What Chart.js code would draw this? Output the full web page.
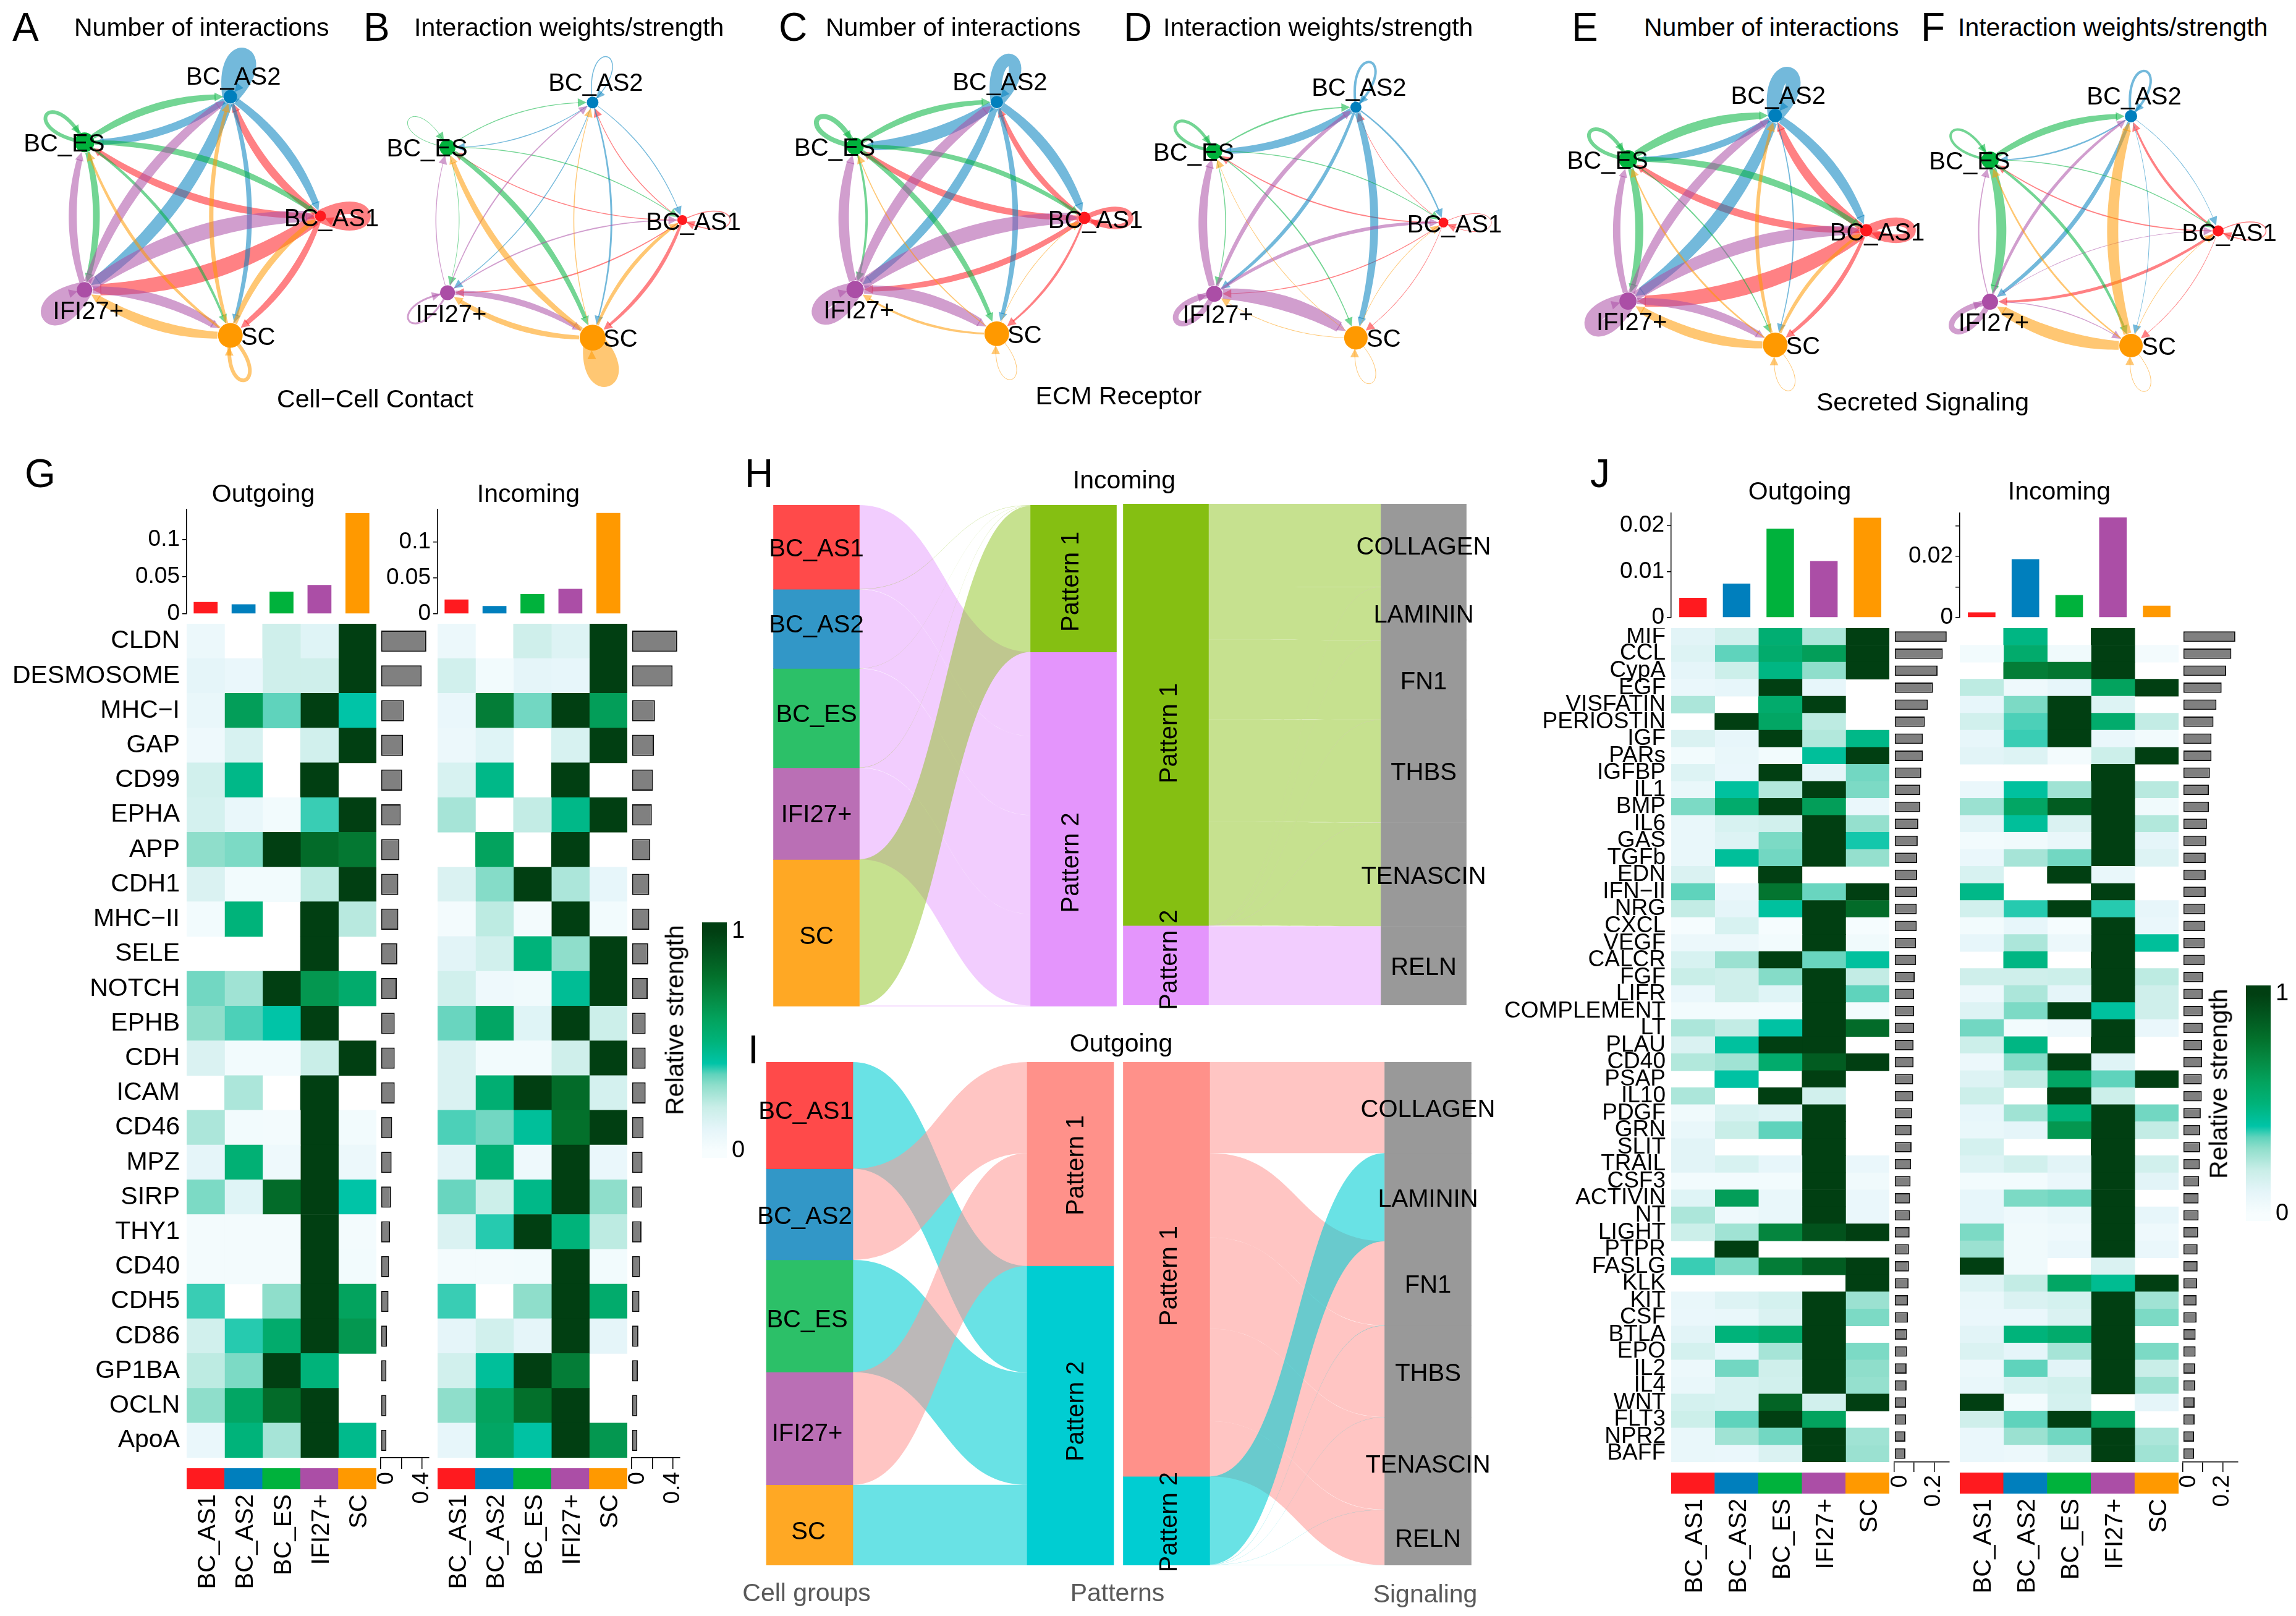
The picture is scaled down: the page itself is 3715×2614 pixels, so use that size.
<!DOCTYPE html>
<html lang="en">
<head>
<meta charset="UTF-8">
<title>Cell communication panels</title>
<script src="https://cdn.jsdelivr.net/npm/chart.js"></script>
<style>
    html, body { margin: 0; padding: 0; background: #fff; }
    body { position: relative; width: 3715px; height: 2614px; overflow: hidden; font-family: "Liberation Sans", Arial, sans-serif; }
    .t { position: absolute; white-space: nowrap; line-height: 1; color: #000; }
</style>
</head>
<body>
<script>
// ---- data ----
const cellGroups = ['BC_AS1', 'BC_AS2', 'BC_ES', 'IFI27+', 'SC'];
const groupColors = ['#FF1A1F', '#007FBD', '#00B23C', '#AB4EA6', '#FF9900'];
const sankeyGroupColors = ['#FF4A4A', '#3297C7', '#2CC068', '#BA6FB5', '#FFA824'];

// circle plots, edge weight[from][to], diagonal is the self loop
const nodeWeightA = [9, 11, 16, 12.5, 20];
const edgesA = [[20,13,12,26,11],[15,26,13,21,8],[10,12,6,11,5],[25,16,13,26,16],[10,7,5,16,6]];
const nodeWeightB = [8, 9.5, 13, 12, 21];
const edgesB = [[1.5,1.5,1.5,2,6],[1.5,1.5,1.5,1.5,3],[1.5,1.5,1,1,9],[2,2,1.5,3,10],[6,1.5,10,9,28]];
const nodeWeightC = [10, 10, 14, 14, 20];
const edgesC = [[8,9,11,10,4],[17,20,20,15,9],[8,10,8,4,9],[24,17,17,24,19],[1,0,2,4,1]];
const nodeWeightD = [8, 9, 13, 13, 19];
const edgesD = [[1,1,2,1.5,1],[3,4,13,6,13],[1.5,2.5,5,1.5,2],[6,7,14,9,24],[1,0,1,1,1]];
const nodeWeightE = [10, 11, 15, 14, 20];
const edgesE = [[14,15,12,26,7],[17,24,11,21,2],[11,15,6,13,2],[21,15,12,25,14],[6,6,3,16,1]];
const nodeWeightF = [9, 10, 14, 13, 19];
const edgesF = [[1.5,4,2,5,1],[1,4,2.5,7,1],[1.5,11,4,16,5],[1,5,2,9,1.5],[1,18,3,20,1]];

// panel G
const rowsG = ['CLDN','DESMOSOME','MHC−I','GAP','CD99','EPHA','APP','CDH1','MHC−II','SELE','NOTCH','EPHB','CDH','ICAM','CD46','MPZ','SIRP','THY1','CD40','CDH5','CD86','GP1BA','OCLN','ApoA'];
const gOutTop = [0.016, 0.013, 0.030, 0.039, 0.136];
const gInTop = [0.020, 0.011, 0.0276, 0.035, 0.141];
const gOutSide = [.44,.395,.225,.215,.207,.193,.18,.17,.17,.16,.155,.135,.135,.135,.11,.105,.1,.09,.08,.075,.06,.055,.055,.055];
const gInSide = [.44,.395,.225,.215,.205,.195,.18,.17,.17,.16,.155,.135,.135,.135,.115,.105,.1,.095,.08,.075,.065,.06,.055,.055];
const gOut = [
[.06,null,.18,.12,1],[.1,.07,.18,.18,1],[.08,.62,.35,1,.4],[.05,.15,null,.17,1],[.17,.47,null,1,null],[.16,.08,.03,.37,1],
[.3,.32,1,.82,.77],[.14,.03,.03,.22,1],[.03,.5,null,1,.23],[null,null,null,1,null],[.33,.27,1,.65,.55],[.3,.36,.4,1,null],
[.14,.03,.03,.2,1],[null,.25,null,1,null],[.25,.03,.02,1,.03],[.1,.52,.05,1,.06],[.32,.12,.82,1,.4],[.02,.02,.02,1,.02],
[.02,.02,.02,1,.03],[.37,null,.3,1,.6],[.17,.38,.55,1,.65],[.22,.32,1,.5,null],[.3,.58,.82,1,null],[.07,.5,.26,1,.46]];
const gIn = [
[.06,null,.18,.13,1],[.17,.03,.1,.09,1],[.07,.75,.33,1,.62],[.06,.12,null,.15,1],[.15,.47,null,1,null],[.26,null,.21,.47,1],
[null,.6,null,1,null],[.14,.31,1,.25,.09],[.02,.22,.02,1,.03],[.11,.17,.5,.3,1],[.17,.05,.04,.44,1],[.34,.58,.12,1,.19],
[.14,.03,.03,.18,1],[.14,.53,1,.82,.16],[.36,.33,.43,.8,1],[.11,.52,.05,1,.07],[.34,.19,.47,1,.3],[.14,.38,1,.5,.22],
[.02,.02,.03,1,.03],[.37,null,.3,1,.55],[.1,.17,.1,1,.1],[.17,.43,1,.75,null],[.3,.6,.8,1,null],[.09,.58,.41,1,.65]];

// panel J
const rowsJ = ['MIF','CCL','CypA','EGF','VISFATIN','PERIOSTIN','IGF','PARs','IGFBP','IL1','BMP','IL6','GAS','TGFb','EDN','IFN−II','NRG','CXCL','VEGF','CALCR','FGF','LIFR','COMPLEMENT','LT','PLAU','CD40','PSAP','IL10','PDGF','GRN','SLIT','TRAIL','CSF3','ACTIVIN','NT','LIGHT','PTPR','FASLG','KLK','KIT','CSF','BTLA','EPO','IL2','IL4','WNT','FLT3','NPR2','BAFF'];
const jOutTop = [0.0043, 0.0074, 0.0193, 0.0123, 0.0217];
const jInTop = [0.0017, 0.0191, 0.0074, 0.0328, 0.0039];
const jSide = [.264,.244,.218,.195,.169,.154,.144,.144,.136,.131,.131,.121,.118,.115,.115,.115,.113,.113,.11,.11,.103,.1,.1,.1,.097,.097,.095,.095,.09,.087,.087,.085,.082,.079,.079,.077,.074,.074,.072,.069,.069,.064,.064,.062,.062,.059,.059,.056,.056];
const jOut = [
[.11,.17,.53,.25,1],[.13,.35,.55,.62,1],[.1,.19,.48,.3,1],[.07,.09,1,.09,null],[.25,null,.55,1,null],[null,1,.58,.22,null],
[.14,.09,1,.24,.47],[.03,.08,.03,.43,1],[.13,.07,1,.1,.33],[.08,.42,.24,1,.32],[.32,.55,1,.62,.07],[.08,.15,.17,1,.29],
[.08,.13,.32,1,.39],[.08,.43,.33,1,.29],[.14,null,1,null,null],[.35,.07,.78,.34,1],[.21,.1,.42,1,.82],[.01,.15,.01,1,.01],
[.06,.06,.03,1,.04],[.15,.28,1,.34,.42],[.2,.18,.31,1,.21],[.07,.18,.12,1,.35],[.03,.03,.03,1,.03],[.25,.21,.41,1,.82],
[.14,.42,1,1,null],[.24,.27,.55,.88,1],[null,.41,null,1,null],[.25,null,1,.17,null],[.04,.15,.13,1,null],[.08,.2,.35,1,null],
[.11,null,null,1,null],[.11,.15,.09,1,.07],[.03,.03,.03,1,.04],[.12,.62,.08,1,.07],[.25,.05,.08,1,.07],[.19,.27,.72,.92,1],
[null,1,null,null,null],[.37,.32,.75,.88,1],[null,null,null,null,1],[.08,.13,.16,1,.28],[.07,.08,.14,1,.32],[.11,.5,.55,1,null],
[.16,.09,.26,1,.32],[.06,.33,.18,1,.3],[.08,.15,.17,1,.29],[.16,.15,.85,.17,1],[.19,.35,1,.6,null],[.08,.27,.33,1,.27],[.08,.07,.14,1,.28]];
const jIn = [
[null,.48,null,1,null],[.03,.55,.04,1,.02],[null,.75,.78,1,null],[.22,.05,.09,.6,1],[.09,.32,1,.13,null],[.17,.36,1,.55,.21],
[.09,.37,1,.07,.03],[.11,.13,.02,.19,1],[null,null,null,1,null],[.07,.42,.27,1,.23],[.28,.58,.88,1,.04],[.11,.43,.14,1,.24],
[.03,.04,.08,1,.1],[.07,.26,.33,1,.13],[.15,null,1,.08,null],[.47,null,null,1,null],[.17,.38,1,.38,.09],[.03,.09,.01,1,.07],
[.09,.25,.06,1,.43],[null,.48,null,1,null],[.18,.18,.19,1,.22],[.06,.25,.1,1,.18],[.13,.32,1,.42,.18],[.33,.03,.05,1,.07],
[.19,.48,null,1,null],[.06,.31,1,.12,null],[.13,.21,.58,.35,1],[.19,null,1,.19,null],[.09,.27,.5,1,.33],[.08,.1,.65,1,.21],
[.16,null,null,1,null],[.13,.17,.11,1,.17],[.03,.03,.07,1,.11],[.09,.32,.33,1,null],[.09,.05,.08,1,.09],[.32,.04,.05,1,.05],
[.28,.04,.07,1,.07],[1,.04,null,.14,null],[.13,.21,.58,.45,1],[.08,.14,.16,1,.27],[.07,.07,.14,1,.32],[.11,.5,.55,1,null],
[.14,.1,.26,1,.32],[.06,.35,.11,1,.2],[.08,.15,.17,1,.28],[1,.03,.16,null,.1],[.18,.35,1,.6,null],[.07,.28,.33,1,.25],[.07,.06,.14,1,.27]];

// sankey panels, shares in percent
const signaling = ['COLLAGEN','LAMININ','FN1','THBS','TENASCIN','RELN'];
const patterns = ['Pattern 1', 'Pattern 2'];
const inGroupP1 = [.05,.05,.05,.05,29.1];
const inGroupP2 = [16.75,15.75,19.75,18.25,.2];
const inSignalP1 = [16.5,10.55,15.85,20.45,20.65,0];
const inSignalP2 = [.03,.03,.03,.03,.03,15.7];
const outGroupP1 = [0,18.1,0,22.4,0];
const outGroupP2 = [21.2,0,22.3,0,16];
const outSignalP1 = [18.1,0,16.75,18.15,18.35,11];
const outSignalP2 = [0,17.5,.05,.05,.05,.02];

// colour ramp of the heatmaps
const rampAt = [0,.1,.2,.3,.35,.4,.5,.6,.7,.8,.9,1];
const rampHex = ['#F7FDFE','#E5F5F9','#C9EEE8','#8FDECB','#5FD3BC','#00C4A7','#00B37A','#03A35E','#058A43','#03702B','#02571F','#013F12'];

// ---- helpers ----
const FONT = '"Liberation Sans", Arial, sans-serif';
Chart.defaults.font.family = FONT;
Chart.defaults.color = '#000';

function rgb(h) { return [1, 3, 5].map(i => parseInt(h.substr(i, 2), 16)); }
function heatColor(v) {
    if (v === null) return 'rgba(255,255,255,0)';
    let i = 0;
    while (i < rampAt.length - 2 && v > rampAt[i + 1]) i++;
    const f = Math.min(1, Math.max(0, (v - rampAt[i]) / (rampAt[i + 1] - rampAt[i])));
    const a = rgb(rampHex[i]), b = rgb(rampHex[i + 1]);
    return 'rgb(' + a.map((c, k) => Math.round(c + (b[k] - c) * f)).join(',') + ')';
}

function text(s, x, y, size, o) {
    o = o || {};
    const d = document.createElement('div');
    d.className = 't';
    d.textContent = s;
    d.style.left = x + 'px';
    d.style.top = y + 'px';
    d.style.fontSize = size + 'px';
    if (o.color) d.style.color = o.color;
    const tx = o.left ? '0' : '-50%';
    d.style.transform = 'translate(' + tx + ',-50%)' + (o.rot ? ' rotate(' + o.rot + 'deg)' : '');
    document.body.appendChild(d);
}

// plot box x,y,w,h on the page, pad is the room around it inside the canvas
function place(x, y, w, h, pad, config) {
    const p = Object.assign({ l: 0, r: 0, t: 0, b: 0 }, pad);
    const c = document.createElement('canvas');
    c.width = w + p.l + p.r;
    c.height = h + p.t + p.b;
    c.style.cssText = 'position:absolute;left:' + (x - p.l) + 'px;top:' + (y - p.t) + 'px;width:' + c.width + 'px;height:' + c.height + 'px';
    document.body.appendChild(c);
    const o = config.options;
    o.responsive = false;
    o.animation = false;
    o.devicePixelRatio = 1;
    o.plugins = { legend: { display: false }, tooltip: { enabled: false } };
    const s = o.scales;
    const leftAxis = s.y && s.y.display !== false && s.y.position !== 'right';
    const rightAxis = s.y && s.y.display !== false && s.y.position === 'right';
    const bottomAxis = s.x && s.x.display !== false;
    // fixed axis room, and no extra margin for labels at the ends of an axis
    const fixY = room => a => { a.width = room; a.paddingTop = 0; a.paddingBottom = 0; };
    if (leftAxis) s.y.afterFit = fixY(p.l);
    if (rightAxis) s.y.afterFit = fixY(p.r);
    if (bottomAxis) s.x.afterFit = a => { a.height = p.b; a.paddingLeft = 0; a.paddingRight = 0; };
    o.layout = { autoPadding: false, padding: { left: leftAxis ? 0 : p.l, right: rightAxis ? 0 : p.r, top: p.t, bottom: bottomAxis ? 0 : p.b } };
    return new Chart(c, config);
}

function rotLabel(ctx, s, x, y, font, align) {
    ctx.save();
    ctx.translate(x, y);
    ctx.rotate(-Math.PI / 2);
    ctx.font = font;
    ctx.fillStyle = '#000';
    ctx.textAlign = align;
    ctx.textBaseline = 'middle';
    ctx.fillText(s, 0, 0);
    ctx.restore();
}

// ---- circle plots ----
const nodeAngles = [0, 72, 144, 216, 288];
function quad(a, c, b, t) {
    const u = 1 - t;
    return [u * u * a[0] + 2 * u * t * c[0] + t * t * b[0], u * u * a[1] + 2 * u * t * c[1] + t * t * b[1]];
}
function arrowHead(ctx, tip, from, color) {
    const dx = tip[0] - from[0], dy = tip[1] - from[1], l = Math.hypot(dx, dy) || 1;
    const ux = dx / l, uy = dy / l, len = 14, hw = 7;
    ctx.fillStyle = color;
    ctx.beginPath();
    ctx.moveTo(tip[0], tip[1]);
    ctx.lineTo(tip[0] - ux * len - uy * hw, tip[1] - uy * len + ux * hw);
    ctx.lineTo(tip[0] - ux * len + uy * hw, tip[1] - uy * len - ux * hw);
    ctx.closePath();
    ctx.fill();
}
function drawRibbonEdge(ctx, a, b, ra, rb, w, color) {
    const dx = b[0] - a[0], dy = b[1] - a[1], len = Math.hypot(dx, dy);
    const c = [(a[0] + b[0]) / 2 + dy * 0.16, (a[1] + b[1]) / 2 - dx * 0.16];
    const t0 = ra / len, t1 = 1 - (rb + 12) / len, n = 36;
    const up = [], dn = [];
    for (let i = 0; i <= n; i++) {
        const s = i / n, t = t0 + (t1 - t0) * s;
        const p = quad(a, c, b, t), q = quad(a, c, b, t + 0.002);
        const l = Math.hypot(q[0] - p[0], q[1] - p[1]) || 1;
        const nx = -(q[1] - p[1]) / l, ny = (q[0] - p[0]) / l;
        const hw = w / 2 * (0.7 + 0.3 * Math.sin(Math.PI * s));
        up.push([p[0] + nx * hw, p[1] + ny * hw]);
        dn.push([p[0] - nx * hw, p[1] - ny * hw]);
    }
    ctx.fillStyle = color;
    ctx.beginPath();
    up.forEach((p, i) => i ? ctx.lineTo(p[0], p[1]) : ctx.moveTo(p[0], p[1]));
    dn.reverse().forEach(p => ctx.lineTo(p[0], p[1]));
    ctx.closePath();
    ctx.fill();
    const tipT = 1 - rb / len;
    arrowHead(ctx, quad(a, c, b, tipT), quad(a, c, b, tipT - 0.02), color);
}
function drawLoop(ctx, p, deg, r, w, color) {
    const th = 26 * Math.PI / 180, a = deg * Math.PI / 180;
    const D = (78 - w / 3) / (0.75 * Math.cos(th));
    const c1 = [p[0] + D * Math.cos(a + th), p[1] - D * Math.sin(a + th)];
    const c2 = [p[0] + D * Math.cos(a - th), p[1] - D * Math.sin(a - th)];
    ctx.strokeStyle = color;
    ctx.lineWidth = w;
    ctx.beginPath();
    ctx.moveTo(p[0], p[1]);
    ctx.bezierCurveTo(c1[0], c1[1], c2[0], c2[1], p[0], p[1]);
    ctx.stroke();
    const at = t => {
        const u = 1 - t;
        return [u * u * u * p[0] + 3 * u * u * t * c1[0] + 3 * u * t * t * c2[0] + t * t * t * p[0],
                u * u * u * p[1] + 3 * u * u * t * c1[1] + 3 * u * t * t * c2[1] + t * t * t * p[1]];
    };
    let t = 0.6;
    while (t < 0.99 && Math.hypot(at(t)[0] - p[0], at(t)[1] - p[1]) > r) t += 0.005;
    arrowHead(ctx, at(t), at(t - 0.03), color);
}
const labelOffsets = [[18, 5], [5, -30], [-33, 4], [6, 36], [45, 4]];

function circlePlot(cx, cy, rx, ry, sizes, edges) {
    const span = 1.5;
    const xs = nodeAngles.map(d => Math.cos(d * Math.PI / 180));
    const ys = nodeAngles.map(d => Math.sin(d * Math.PI / 180));
    const w = 2 * span * rx, h = 2 * span * ry;
    place(cx - span * rx, cy - span * ry, w, h, { l: 60, r: 60 }, {
        type: 'scatter',
        data: { datasets: [{
            data: xs.map((x, i) => ({ x: x, y: ys[i] })),
            pointRadius: sizes,
            pointBackgroundColor: groupColors,
            pointBorderWidth: 0
        }] },
        options: { scales: {
            x: { type: 'linear', min: -span, max: span, display: false },
            y: { type: 'linear', min: -span, max: span, display: false }
        } },
        plugins: [{
            id: 'circleEdges',
            beforeDatasetsDraw(chart) {
                const ctx = chart.ctx, sx = chart.scales.x, sy = chart.scales.y;
                const pos = xs.map((x, i) => [sx.getPixelForValue(x), sy.getPixelForValue(ys[i])]);
                ctx.save();
                edges.forEach((row, i) => row.forEach((v, j) => {
                    if (!v) return;
                    const c = rgb(groupColors[i]);
                    const col = 'rgba(' + c.join(',') + ',0.55)';
                    if (i === j) drawLoop(ctx, pos[i], nodeAngles[i], sizes[i], v, col);
                    else drawRibbonEdge(ctx, pos[i], pos[j], sizes[i], sizes[j], v, col);
                }));
                ctx.restore();
            },
            afterDraw(chart) {
                const ctx = chart.ctx, sx = chart.scales.x, sy = chart.scales.y;
                ctx.save();
                ctx.font = '40px ' + FONT;
                ctx.fillStyle = '#000';
                ctx.textAlign = 'center';
                ctx.textBaseline = 'middle';
                cellGroups.forEach((n, i) => {
                    ctx.fillText(n, sx.getPixelForValue(xs[i]) + labelOffsets[i][0], sy.getPixelForValue(ys[i]) + labelOffsets[i][1]);
                });
                ctx.restore();
            }
        }]
    });
}

circlePlot(307, 349, 211, 203, nodeWeightA, edgesA);
circlePlot(894, 356, 210, 200, nodeWeightB, edgesB);
circlePlot(1549, 352, 205, 197, nodeWeightC, edgesC);
circlePlot(2130, 360, 205, 196, nodeWeightD, edgesD);
circlePlot(2806, 372, 213, 195, nodeWeightE, edgesE);
circlePlot(3385, 373, 204, 195, nodeWeightF, edgesF);

// ---- heatmap blocks ----
function heatBlock(o) {
    const w = o.w, h = o.bottom - o.top;
    // bars on top
    place(o.x, o.topY, w, o.topH, { l: 100, t: 24, b: 24 }, {
        type: 'bar',
        data: { labels: cellGroups, datasets: [{ data: o.topVals, backgroundColor: groupColors, barPercentage: 0.63, categoryPercentage: 1 }] },
        options: { scales: {
            x: { display: false },
            y: { min: 0, max: o.topMax, grid: { drawOnChartArea: false, tickLength: 7, color: '#000', lineWidth: 1.5 },
                 border: { color: '#000', width: 1.5 },
                 afterBuildTicks: a => { a.ticks = o.topTicks.map(v => ({ value: v })); },
                 ticks: { autoSkip: false, padding: 4, font: { size: 37 }, callback: v => o.topLabels.includes(v) ? String(v) : '' } }
        } }
    });
    // cells
    const datasets = cellGroups.map((g, c) => ({
        label: g,
        data: o.rows.map(() => 1),
        backgroundColor: o.values.map(r => heatColor(r[c])),
        barPercentage: 1, categoryPercentage: 1, borderWidth: 0
    }));
    place(o.x, o.top, w, h, { l: o.labels ? 300 : 0 }, {
        type: 'bar',
        data: { labels: o.rows, datasets: datasets },
        options: { indexAxis: 'y', scales: {
            x: { display: false, stacked: true, min: 0, max: 5 },
            y: { display: !!o.labels, stacked: true, grid: { display: false, drawTicks: false }, border: { display: false },
                 ticks: { autoSkip: false, padding: o.labelPad, maxRotation: 0, minRotation: 0, font: { size: o.rowFont } } }
        } }
    });
    // side bars
    place(o.sideX, o.top, o.sideW, h, { l: 24, b: 100, r: 10 }, {
        type: 'bar',
        data: { labels: o.rows, datasets: [{ data: o.side, backgroundColor: '#808080', borderColor: '#111', borderWidth: 2, borderSkipped: false, barPercentage: 0.61, categoryPercentage: 1 }] },
        options: { indexAxis: 'y', scales: {
            y: { display: false },
            x: { min: 0, max: o.sideMax, grid: { drawOnChartArea: false, tickLength: o.sideTick, color: '#000', lineWidth: 1.5 },
                 border: { color: '#000', width: 1.5 },
                 afterBuildTicks: a => { a.ticks = o.sideTicks.map(v => ({ value: v })); },
                 ticks: { display: false } }
        } },
        plugins: [{ id: 'sideLabels', afterDraw(chart) {
            const sc = chart.scales.x;
            o.sideLabels.forEach(v => {
                const px = Math.max(sc.getPixelForValue(v), sc.left + 10);
                rotLabel(chart.ctx, String(v), px, chart.chartArea.bottom + o.sideTick + 5, '37px ' + FONT, 'right');
            });
        } }]
    });
    // colour strip and column names
    place(o.x, o.stripY, w, o.stripH, { b: 200 }, {
        type: 'bar',
        data: { labels: cellGroups, datasets: [{ data: cellGroups.map(() => 1), backgroundColor: groupColors, barPercentage: 1, categoryPercentage: 1 }] },
        options: { scales: { x: { display: false }, y: { display: false, min: 0, max: 1 } } },
        plugins: [{ id: 'columnNames', afterDraw(chart) {
            const sc = chart.scales.x;
            cellGroups.forEach((g, i) => rotLabel(chart.ctx, g, sc.getPixelForValue(i) + 4, chart.chartArea.bottom + 8, '40px ' + FONT, 'right'));
        } }]
    });
}

heatBlock({ x: 302, w: 307, top: 1009, bottom: 2358, rows: rowsG, values: gOut, labels: true, labelPad: 11, rowFont: 41,
    topY: 824, topH: 169, topVals: gOutTop, topMax: 0.141, topTicks: [0, .05, .1], topLabels: [0, .05, .1],
    side: gOutSide, sideX: 616, sideW: 78, sideMax: .465, sideTicks: [0, .2, .4], sideLabels: [0, .4], sideTick: 18, stripY: 2375, stripH: 34 });
heatBlock({ x: 708, w: 307, top: 1009, bottom: 2358, rows: rowsG, values: gIn, labels: false,
    topY: 824, topH: 169, topVals: gInTop, topMax: 0.146, topTicks: [0, .05, .1], topLabels: [0, .05, .1],
    side: gInSide, sideX: 1022, sideW: 78, sideMax: .465, sideTicks: [0, .2, .4], sideLabels: [0, .4], sideTick: 18, stripY: 2375, stripH: 34 });
heatBlock({ x: 2704, w: 353, top: 1016, bottom: 2365, rows: rowsJ, values: jOut, labels: true, labelPad: 9, rowFont: 37,
    topY: 830, topH: 169, topVals: jOutTop, topMax: 0.0227, topTicks: [0, .01, .02], topLabels: [0, .01, .02],
    side: jSide, sideX: 3065, sideW: 89, sideMax: .277, sideTicks: [0, .1, .2], sideLabels: [0, .2], sideTick: 16, stripY: 2382, stripH: 34 });
heatBlock({ x: 3171, w: 354, top: 1016, bottom: 2365, rows: rowsJ, values: jIn, labels: false,
    topY: 830, topH: 169, topVals: jInTop, topMax: 0.0342, topTicks: [0, .01, .02, .03], topLabels: [0, .02],
    side: jSide, sideX: 3532, sideW: 89, sideMax: .277, sideTicks: [0, .1, .2], sideLabels: [0, .2], sideTick: 16, stripY: 2382, stripH: 34 });

// colour legends
function colorLegend(x, y, w, h, zero, one) {
    const unit = (zero - one);
    const min = -(y + h - zero) / unit, max = 1 + (one - y) / unit;
    place(x, y, w, h, { r: 40, t: 20, b: 20 }, {
        type: 'bar',
        data: { labels: ['Relative strength'], datasets: [{
            data: [[min, max]],
            barPercentage: 1, categoryPercentage: 1,
            backgroundColor: c => {
                const sc = c.chart.scales.y;
                if (!sc || !c.chart.chartArea) return '#ccc';
                const g = c.chart.ctx.createLinearGradient(0, sc.getPixelForValue(0), 0, sc.getPixelForValue(1));
                rampAt.forEach((a, i) => g.addColorStop(a, rampHex[i]));
                return g;
            }
        }] },
        options: { scales: {
            x: { display: false },
            y: { position: 'right', min: min, max: max, grid: { display: false, drawTicks: false }, border: { display: false },
                 afterBuildTicks: a => { a.ticks = [{ value: 0 }, { value: 1 }]; },
                 ticks: { autoSkip: false, padding: 8, font: { size: 38 } } }
        } }
    });
}
colorLegend(1136, 1492, 40, 381, 1862, 1507);
colorLegend(3634, 1594, 40, 381, 1964, 1608);

// ---- sankey panels ----
function sankey(o) {
    const dist = o.rightX - o.leftX;
    const total = o.flows.reduce((a, f) => a + f[2], 0);
    const sum = (names, k) => names.map((n, i) => o.flows.filter(f => f[k] === i).reduce((a, f) => a + f[2], 0));
    const leftSize = sum(o.left, 0), rightSize = sum(o.right, 1);
    const starts = arr => { let a = 0; return arr.map(v => { const s = a; a += v; return s; }); };
    const leftStart = starts(leftSize), rightStart = starts(rightSize);
    // stacking inside the nodes
    const srcUsed = leftSize.map(() => 0), tgtUsed = rightSize.map(() => 0);
    const ribbons = o.flows.map(f => {
        const r = { s: f[0], t: f[1], v: f[2], a: leftStart[f[0]] + srcUsed[f[0]] };
        srcUsed[f[0]] += f[2];
        return r;
    });
    ribbons.slice().sort((p, q) => p.s - q.s).forEach(r => {
        r.b = rightStart[r.t] + tgtUsed[r.t];
        tgtUsed[r.t] += r.v;
    });
    const nodeSet = (names, size, start, colors, idx) => names.map((n, i) => ({
        label: n,
        data: idx === 0 ? [[start[i], start[i] + size[i]], null] : [null, [start[i], start[i] + size[i]]],
        backgroundColor: colors[i],
        barThickness: o.barW,
        borderWidth: 0
    }));
    place(o.leftX + o.barW / 2 - dist / 2, o.top, dist * 2, o.bottom - o.top, { t: 40, b: 40 }, {
        type: 'bar',
        data: { labels: ['left', 'right'], datasets: nodeSet(o.left, leftSize, leftStart, o.leftColors, 0).concat(nodeSet(o.right, rightSize, rightStart, o.rightColors, 1)) },
        options: { scales: {
            x: { display: false, stacked: true },
            y: { display: false, reverse: true, min: 0, max: total }
        } },
        plugins: [{
            id: 'sankeyRibbons',
            beforeDatasetsDraw(chart) {
                const ctx = chart.ctx, y = chart.scales.y, x = chart.scales.x;
                const x0 = x.getPixelForValue(0) + o.barW / 2, x1 = x.getPixelForValue(1) - o.barW / 2, m = (x0 + x1) / 2;
                ctx.save();
                ribbons.forEach(r => {
                    if (r.v <= 0) return;
                    const a0 = y.getPixelForValue(r.a), a1 = y.getPixelForValue(r.a + r.v);
                    const b0 = y.getPixelForValue(r.b), b1 = y.getPixelForValue(r.b + r.v);
                    ctx.fillStyle = o.ribbon(r);
                    ctx.beginPath();
                    ctx.moveTo(x0, a0);
                    ctx.bezierCurveTo(m, a0, m, b0, x1, b0);
                    ctx.lineTo(x1, b1);
                    ctx.bezierCurveTo(m, b1, m, a1, x0, a1);
                    ctx.closePath();
                    ctx.fill();
                });
                ctx.restore();
            },
            afterDraw(chart) {
                const ctx = chart.ctx, y = chart.scales.y, x = chart.scales.x;
                const label = (names, size, start, col) => names.forEach((n, i) => {
                    const cy = y.getPixelForValue(start[i] + size[i] / 2), cx = x.getPixelForValue(col);
                    if (patterns.includes(n)) {
                        const sh = o.patternShift[col === 0 ? 0 : 1][i];
                        rotLabel(ctx, n, cx + sh[0], cy + sh[1], '40px ' + FONT, 'center');
                    } else {
                        const sh = o.nameShift && col === 0 ? o.nameShift[i] : [0, 4];
                        ctx.save();
                        ctx.font = '40px ' + FONT;
                        ctx.fillStyle = '#000';
                        ctx.textAlign = 'center';
                        ctx.textBaseline = 'middle';
                        ctx.fillText(n, cx + sh[0], cy + sh[1]);
                        ctx.restore();
                    }
                });
                label(o.left, leftSize, leftStart, 0);
                label(o.right, rightSize, rightStart, 1);
            }
        }]
    });
}
function flowList(groups) {
    // groups: [[from, to, values...]] read in stacking order
    const out = [];
    groups.forEach(g => g.forEach(f => out.push(f)));
    return out;
}

const inColors = ['#85BF12', '#E495FC'];
const outColors = ['#FF918A', '#00CDD2'];
const greyNodes = signaling.map(() => '#999999');
const inRibbon = k => (k === 0 ? 'rgba(133,191,18,0.47)' : 'rgba(228,149,252,0.47)');
const outRibbon = k => (k === 0 ? 'rgba(255,150,145,0.55)' : 'rgba(0,205,210,0.59)');

sankey({
    leftX: 1251, rightX: 1667, barW: 139, top: 817, bottom: 1628, left: cellGroups, right: patterns,
    leftColors: sankeyGroupColors, rightColors: inColors,
    flows: flowList([
        [0, 1, 2, 3].map(i => [i, 1, inGroupP2[i]]),
        [0, 1, 2, 3, 4].map(i => [i, 0, inGroupP1[i]]),
        [[4, 1, inGroupP2[4]]]
    ]),
    ribbon: r => inRibbon(r.t),
    nameShift: [[0, 4], [0, -5], [0, -5], [0, 3], [0, 7]],
    patternShift: [[], [[-3, 5], [-3, 54]]]
});
sankey({
    leftX: 1817, rightX: 2234, barW: 138, top: 815, bottom: 1626, left: patterns, right: signaling,
    leftColors: inColors, rightColors: greyNodes,
    flows: flowList([
        [0, 1, 2, 3, 4].map(i => [0, i, inSignalP1[i]]),
        [0, 1, 2, 3, 4, 5].map(i => [1, i, inSignalP2[i]])
    ]),
    ribbon: r => inRibbon(r.s),
    patternShift: [[[6, 30], [6, -9]], []]
});
sankey({
    leftX: 1240, rightX: 1662, barW: 140, top: 1718, bottom: 2532, left: cellGroups, right: patterns,
    leftColors: sankeyGroupColors, rightColors: outColors,
    flows: flowList([
        [0, 2, 4].map(i => [i, 1, outGroupP2[i]]),
        [1, 3].map(i => [i, 0, outGroupP1[i]])
    ]),
    ribbon: r => outRibbon(r.t),
    nameShift: [[-6, -5], [-8, 5], [-4, 7], [-4, 9], [-2, 12]],
    patternShift: [[], [[10, 2], [10, -7]]]
});
sankey({
    leftX: 1817, rightX: 2240, barW: 140, top: 1718, bottom: 2532, left: patterns, right: signaling,
    leftColors: outColors, rightColors: greyNodes,
    flows: flowList([
        [0, 2, 3, 4, 5].map(i => [0, i, outSignalP1[i]]),
        [1, 2, 3, 4, 5].map(i => [1, i, outSignalP2[i]])
    ]),
    ribbon: r => outRibbon(r.s),
    patternShift: [[[5, 11], [5, 2]], []]
});

// ---- page text ----
const panelFont = 64, titleFont = 41;
[['A', 20], ['B', 588], ['C', 1260], ['D', 1818], ['E', 2543], ['F', 3108]].forEach(p => text(p[0], p[1], 44, panelFont, { left: true }));
[[120, 'Number of interactions'], [670, 'Interaction weights/strength'], [1336, 'Number of interactions'], [1882, 'Interaction weights/strength'], [2660, 'Number of interactions'], [3168, 'Interaction weights/strength']]
    .forEach(p => text(p[1], p[0], 44, titleFont, { left: true }));
text('Cell−Cell Contact', 607, 645, titleFont);
text('ECM Receptor', 1810, 640, titleFont);
text('Secreted Signaling', 3111, 650, titleFont);
text('G', 40, 766, panelFont, { left: true });
text('H', 1205, 766, panelFont, { left: true });
text('I', 1210, 1698, panelFont, { left: true });
text('J', 2573, 766, panelFont, { left: true });
text('Outgoing', 426, 798, titleFont);
text('Incoming', 855, 798, titleFont);
text('Outgoing', 2912, 794, titleFont);
text('Incoming', 3332, 794, titleFont);
text('Incoming', 1819, 776, titleFont);
text('Outgoing', 1814, 1687, titleFont);
text('Cell groups', 1305, 2576, titleFont, { color: '#595959' });
text('Patterns', 1808, 2576, titleFont, { color: '#595959' });
text('Signaling', 2306, 2578, titleFont, { color: '#595959' });
text('Relative strength', 1092, 1650, titleFont, { rot: -90 });
text('Relative strength', 3590, 1753, titleFont, { rot: -90 });
</script>
</body>
</html>
